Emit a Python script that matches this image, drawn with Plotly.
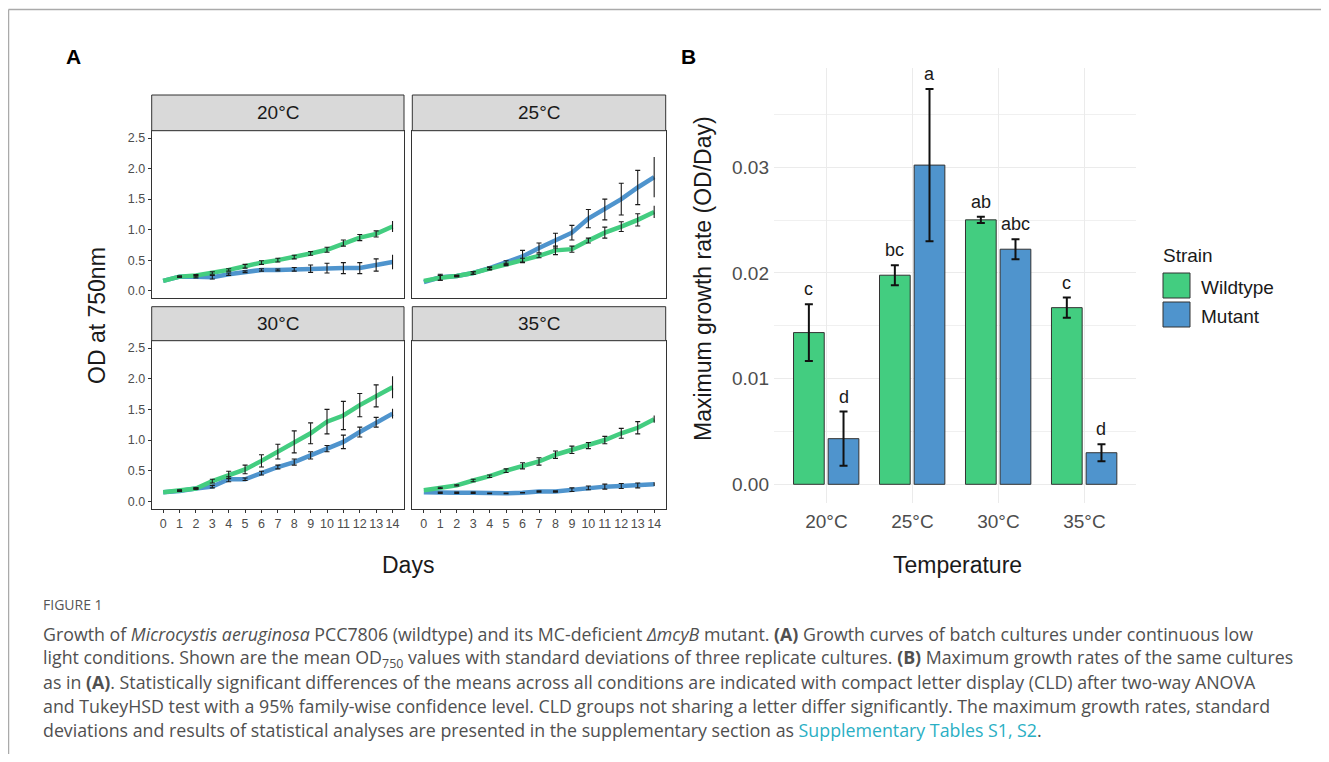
import plotly.graph_objects as go

# the page body has an 8px margin: the figure covers reference pixels 8..1329 x 8..754
OX, OY = 8, 8
FW, FH = 1321, 746

# ---------------- DATA ----------------
days = list(range(15))
temps = ["20°C", "25°C", "30°C", "35°C"]

wt_20 = [0.16, 0.23, 0.25, 0.29, 0.34, 0.40, 0.46, 0.50, 0.55, 0.61, 0.67, 0.78, 0.87, 0.93, 1.05]
wt_20_sd = [0, 0.01, 0.015, 0.02, 0.02, 0.03, 0.03, 0.03, 0.03, 0.03, 0.04, 0.05, 0.05, 0.05, 0.09]
mut_20 = [0.16, 0.23, 0.23, 0.22, 0.27, 0.31, 0.34, 0.34, 0.35, 0.36, 0.37, 0.37, 0.37, 0.42, 0.47]
mut_20_sd = [0, 0.01, 0.02, 0.03, 0.02, 0.015, 0.02, 0.015, 0.03, 0.06, 0.08, 0.09, 0.09, 0.10, 0.12]

wt_25 = [0.16, 0.21, 0.24, 0.29, 0.36, 0.43, 0.50, 0.57, 0.66, 0.68, 0.82, 0.95, 1.05, 1.16, 1.29]
wt_25_sd = [0, 0.04, 0.01, 0.02, 0.02, 0.02, 0.03, 0.03, 0.07, 0.05, 0.04, 0.09, 0.08, 0.10, 0.10]
mut_25 = [0.14, 0.22, 0.24, 0.29, 0.37, 0.46, 0.56, 0.70, 0.82, 0.95, 1.18, 1.33, 1.50, 1.69, 1.86]
mut_25_sd = [0, 0.05, 0.01, 0.02, 0.02, 0.03, 0.10, 0.08, 0.12, 0.12, 0.15, 0.17, 0.26, 0.28, 0.33]

wt_30 = [0.15, 0.18, 0.21, 0.33, 0.43, 0.52, 0.66, 0.81, 0.97, 1.11, 1.30, 1.40, 1.57, 1.72, 1.86]
wt_30_sd = [0, 0.01, 0.01, 0.03, 0.06, 0.07, 0.10, 0.12, 0.18, 0.17, 0.20, 0.23, 0.19, 0.18, 0.18]
mut_30 = [0.15, 0.17, 0.21, 0.24, 0.36, 0.36, 0.46, 0.56, 0.64, 0.75, 0.86, 0.97, 1.13, 1.29, 1.43]
mut_30_sd = [0, 0.01, 0.01, 0.02, 0.04, 0.02, 0.03, 0.03, 0.05, 0.06, 0.05, 0.11, 0.08, 0.08, 0.08]

wt_35 = [0.18, 0.22, 0.26, 0.34, 0.41, 0.50, 0.58, 0.65, 0.76, 0.84, 0.91, 1.00, 1.11, 1.20, 1.34]
wt_35_sd = [0, 0.01, 0.01, 0.02, 0.02, 0.03, 0.05, 0.06, 0.06, 0.06, 0.05, 0.06, 0.08, 0.10, 0.06]
mut_35 = [0.15, 0.14, 0.14, 0.14, 0.13, 0.13, 0.14, 0.16, 0.16, 0.19, 0.22, 0.24, 0.25, 0.26, 0.28]
mut_35_sd = [0, 0.01, 0.01, 0.01, 0.005, 0.005, 0.005, 0.01, 0.01, 0.03, 0.03, 0.04, 0.04, 0.04, 0.03]

od_ticks = [0.0, 0.5, 1.0, 1.5, 2.0, 2.5]

wt_rate = [0.01436, 0.01979, 0.02503, 0.01672]
wt_rate_sd = [0.00268, 0.00094, 0.0003, 0.00095]
mut_rate = [0.00432, 0.03021, 0.02225, 0.00299]
mut_rate_sd = [0.00257, 0.0072, 0.00095, 0.0008]
wt_cld = ["c", "bc", "ab", "c"]
mut_cld = ["d", "a", "abc", "d"]
rate_ticks = [0.0, 0.01, 0.02, 0.03]
rate_minor = [0.005, 0.015, 0.025, 0.035]

# ---------------- STYLE ----------------
GREEN = "#43CD80"
BLUE = "#4F94CD"
FONT = "Liberation Sans, Arial, sans-serif"
CAPFONT = "Open Sans, Lato, sans-serif"
TICKC = "#4D4D4D"


def px(x):
    return (x - OX) / FW


def py(y):
    return 1 - (y - OY) / FH


fig = go.Figure()

cols = [(151.7, 404.0), (412.3, 665.7)]
rows = [(95.0, 130.7, 298.0), (306.7, 340.7, 508.7)]

panels = [
    ("20°C", wt_20, wt_20_sd, mut_20, mut_20_sd, 0, 0),
    ("25°C", wt_25, wt_25_sd, mut_25, mut_25_sd, 0, 1),
    ("30°C", wt_30, wt_30_sd, mut_30, mut_30_sd, 1, 0),
    ("35°C", wt_35, wt_35_sd, mut_35, mut_35_sd, 1, 1),
]

shapes = []
annotations = []
layout_axes = {}

for i, (lab, wt, wsd, mu, msd, r, c) in enumerate(panels):
    n = i + 1
    xa = "x" if n == 1 else f"x{n}"
    ya = "y" if n == 1 else f"y{n}"
    x0, x1 = cols[c]
    st, pt, pb = rows[r]
    fig.add_trace(go.Scatter(x=days, y=mu, mode="lines", line=dict(color=BLUE, width=4.5),
                             xaxis=xa, yaxis=ya, showlegend=False, hoverinfo="skip"))
    fig.add_trace(go.Scatter(x=days, y=wt, mode="lines", line=dict(color=GREEN, width=4.5),
                             xaxis=xa, yaxis=ya, showlegend=False, hoverinfo="skip"))
    for vals, sds in ((mu, msd), (wt, wsd)):
        fig.add_trace(go.Scatter(x=days[1:-1], y=vals[1:-1], mode="markers",
                                 marker=dict(size=1, color="rgba(0,0,0,0)"),
                                 error_y=dict(type="data", array=sds[1:-1], color="#1a1a1a",
                                              thickness=1.1, width=2.5),
                                 xaxis=xa, yaxis=ya, showlegend=False, hoverinfo="skip"))
        fig.add_trace(go.Scatter(x=days[-1:], y=vals[-1:], mode="markers",
                                 marker=dict(size=1, color="rgba(0,0,0,0)"),
                                 error_y=dict(type="data", array=sds[-1:], color="#1a1a1a",
                                              thickness=1.1, width=0),
                                 xaxis=xa, yaxis=ya, showlegend=False, hoverinfo="skip"))
    bottom = (r == 1)
    left = (c == 0)
    layout_axes["xaxis" if n == 1 else f"xaxis{n}"] = dict(
        domain=[px(x0), px(x1)], range=[-0.7, 14.7], anchor=ya,
        showline=True, mirror=True, linecolor="#333333", linewidth=1,
        showgrid=False, zeroline=False,
        tickmode="array", tickvals=days, ticktext=[str(d) for d in days],
        showticklabels=bottom, ticks="outside" if bottom else "", ticklen=3,
        tickcolor="#333333", tickfont=dict(family=FONT, size=12.5, color=TICKC),
    )
    layout_axes["yaxis" if n == 1 else f"yaxis{n}"] = dict(
        domain=[py(pb), py(pt)], range=[-0.12, 2.62], anchor=xa,
        showline=True, mirror=True, linecolor="#333333", linewidth=1,
        showgrid=False, zeroline=False,
        tickmode="array", tickvals=od_ticks, ticktext=[f"{v:.1f}" for v in od_ticks],
        showticklabels=left, ticks="outside" if left else "", ticklen=3,
        tickcolor="#333333", tickfont=dict(family=FONT, size=12.5, color=TICKC),
    )
    shapes.append(dict(type="rect", xref="paper", yref="paper",
                       x0=px(x0), x1=px(x1), y0=py(pt), y1=py(st),
                       fillcolor="#D9D9D9", line=dict(color="#333333", width=1), layer="above"))
    annotations.append(dict(text=lab, xref="paper", yref="paper",
                            x=px((x0 + x1) / 2), y=py((st + pt) / 2), showarrow=False,
                            xanchor="center", yanchor="middle",
                            font=dict(family=FONT, size=19, color="#1a1a1a")))

# ---------------- PANEL B ----------------
fig.add_trace(go.Bar(x=temps, y=wt_rate, width=0.357, offset=-0.383,
                     marker=dict(color=GREEN, line=dict(color="#333333", width=1)),
                     error_y=dict(type="data", array=wt_rate_sd, color="#111111", thickness=2, width=4),
                     xaxis="x5", yaxis="y5", showlegend=False, hoverinfo="skip"))
fig.add_trace(go.Bar(x=temps, y=mut_rate, width=0.357, offset=0.02,
                     marker=dict(color=BLUE, line=dict(color="#333333", width=1)),
                     error_y=dict(type="data", array=mut_rate_sd, color="#111111", thickness=2, width=4),
                     xaxis="x5", yaxis="y5", showlegend=False, hoverinfo="skip"))

for k in range(len(temps)):
    annotations.append(dict(text=wt_cld[k], xref="x5", yref="y5", x=k - 0.2045,
                            y=wt_rate[k] + wt_rate_sd[k], yshift=3, showarrow=False,
                            xanchor="center", yanchor="bottom",
                            font=dict(family=FONT, size=18, color="#1a1a1a")))
    annotations.append(dict(text=mut_cld[k], xref="x5", yref="y5", x=k + 0.1985,
                            y=mut_rate[k] + mut_rate_sd[k], yshift=3, showarrow=False,
                            xanchor="center", yanchor="bottom",
                            font=dict(family=FONT, size=18, color="#1a1a1a")))

layout_axes["xaxis5"] = dict(
    domain=[px(774), px(1136)], anchor="y5", type="category",
    categoryorder="array", categoryarray=temps, range=[-0.61, 3.6],
    showgrid=True, gridcolor="#EBEBEB", gridwidth=1, showline=False, zeroline=False,
    ticks="", ticklabelstandoff=5, tickfont=dict(family=FONT, size=19, color=TICKC),
)
layout_axes["yaxis5"] = dict(
    domain=[py(502.7), py(68)], anchor="x5", range=[-0.00174, 0.0394],
    tickmode="array", tickvals=rate_ticks, ticktext=[f"{v:.2f}" for v in rate_ticks],
    showgrid=True, gridcolor="#EBEBEB", gridwidth=1, showline=False, zeroline=False,
    ticks="", ticklabelstandoff=4, tickfont=dict(family=FONT, size=19, color=TICKC),
    minor=dict(tickmode="array", tickvals=rate_minor, showgrid=True, gridcolor="#F0F0F0", gridwidth=0.6),
)

# custom legend
shapes.append(dict(type="rect", xref="paper", yref="paper", x0=px(1163), x1=px(1190),
                   y0=py(298), y1=py(273), fillcolor=GREEN, line=dict(color="#333333", width=1)))
shapes.append(dict(type="rect", xref="paper", yref="paper", x0=px(1163), x1=px(1190),
                   y0=py(327), y1=py(302), fillcolor=BLUE, line=dict(color="#333333", width=1)))
for txt, xx, yy in (("Strain", 1161, 255), ("Wildtype", 1199, 287), ("Mutant", 1199, 316)):
    annotations.append(dict(text=txt, xref="paper", yref="paper", x=px(xx), y=py(yy),
                            showarrow=False, xanchor="left", yanchor="middle",
                            font=dict(family=FONT, size=19, color="#1a1a1a")))

annotations += [
    dict(text="OD at 750nm", xref="paper", yref="paper", x=px(97), y=py(316), textangle=-90,
         showarrow=False, xanchor="center", yanchor="middle",
         font=dict(family=FONT, size=23, color="#1a1a1a")),
    dict(text="Days", xref="paper", yref="paper", x=px(408), y=py(565),
         showarrow=False, xanchor="center", yanchor="middle",
         font=dict(family=FONT, size=23, color="#1a1a1a")),
    dict(text="Maximum growth rate (OD/Day)", xref="paper", yref="paper", x=px(703), y=py(279),
         textangle=-90, showarrow=False, xanchor="center", yanchor="middle",
         font=dict(family=FONT, size=23, color="#1a1a1a")),
    dict(text="Temperature", xref="paper", yref="paper", x=px(957), y=py(565),
         showarrow=False, xanchor="center", yanchor="middle",
         font=dict(family=FONT, size=23, color="#1a1a1a")),
    dict(text="<b>A</b>", xref="paper", yref="paper", x=px(73), y=py(56),
         showarrow=False, xanchor="center", yanchor="middle",
         font=dict(family=FONT, size=21, color="#000000")),
    dict(text="<b>B</b>", xref="paper", yref="paper", x=px(688), y=py(56),
         showarrow=False, xanchor="center", yanchor="middle",
         font=dict(family=FONT, size=21, color="#000000")),
]

LINK = "#2AAFC4"
caption_lines = [
    "Growth of <i>Microcystis aeruginosa</i> PCC7806 (wildtype) and its MC-deficient <i>ΔmcyB</i> mutant. <b>(A)</b> Growth curves of batch cultures under continuous low",
    "light conditions. Shown are the mean OD<sub>750</sub> values with standard deviations of three replicate cultures. <b>(B)</b> Maximum growth rates of the same cultures",
    "as in <b>(A)</b>. Statistically significant differences of the means across all conditions are indicated with compact letter display (CLD) after two-way ANOVA",
    "and TukeyHSD test with a 95% family-wise confidence level. CLD groups not sharing a letter differ significantly. The maximum growth rates, standard",
    f"deviations and results of statistical analyses are presented in the supplementary section as <span style='color:{LINK}'>Supplementary Tables S1, S2</span>.",
]
annotations.append(dict(text="FIGURE 1", xref="paper", yref="paper", x=px(41), y=py(604),
                        showarrow=False, xanchor="left", yanchor="middle",
                        font=dict(family=CAPFONT, size=14, color="#555555")))
for j, line in enumerate(caption_lines):
    annotations.append(dict(text=line, xref="paper", yref="paper", x=px(41), y=py(634 + 24 * j),
                            showarrow=False, xanchor="left", yanchor="middle",
                            font=dict(family=CAPFONT, size=17.8, color="#505050")))

# frame
shapes.append(dict(type="line", xref="paper", yref="paper", x0=px(8.5), x1=1, y0=py(9.5), y1=py(9.5),
                   line=dict(color="#AAAAAA", width=1.5)))
shapes.append(dict(type="line", xref="paper", yref="paper", x0=px(8.5), x1=px(8.5), y0=py(9.5), y1=0,
                   line=dict(color="#AAAAAA", width=1.5)))

fig.update_layout(
    width=FW, height=FH, margin=dict(l=0, r=0, t=0, b=0),
    paper_bgcolor="white", plot_bgcolor="white",
    showlegend=False, shapes=shapes, annotations=annotations,
    barmode="overlay",
    **layout_axes,
)

fig.write_html("out.html", include_plotlyjs=True, config={"displayModeBar": False})
